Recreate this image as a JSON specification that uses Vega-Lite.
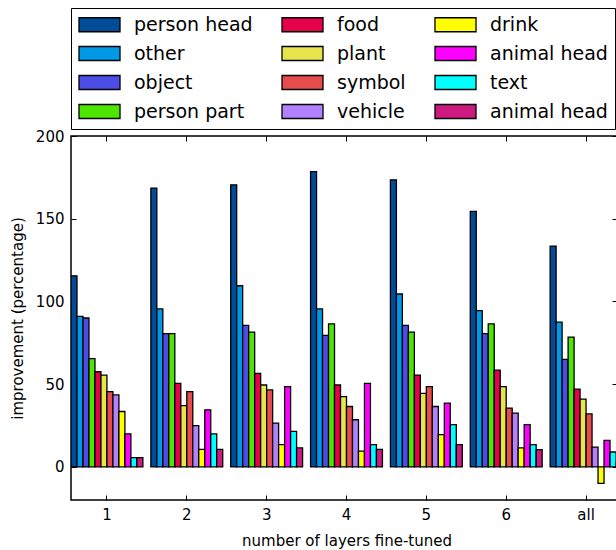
{
  "$schema": "https://vega.github.io/schema/vega-lite/v6.json",
  "width": 546,
  "height": 364,
  "autosize": {"type": "none"},
  "padding": {"left": 71, "top": 136, "right": 0, "bottom": 50},
  "config": {
    "font": "DejaVu Sans",
    "view": {"stroke": "black", "strokeWidth": 1.5},
    "axis": {"labelColor": "black", "titleColor": "black", "tickColor": "black", "labelFontSize": 15, "titleFontSize": 15, "titleFontWeight": "normal", "grid": false, "domain": false, "tickWidth": 1}
  },
  "data": {
    "values": [
      {"g": "1", "c": "person head", "v": 115.5}, {"g": "1", "c": "other", "v": 91}, {"g": "1", "c": "object", "v": 90}, {"g": "1", "c": "person part", "v": 65.5}, {"g": "1", "c": "food", "v": 57.5}, {"g": "1", "c": "plant", "v": 55.5}, {"g": "1", "c": "symbol", "v": 45.5}, {"g": "1", "c": "vehicle", "v": 43.5}, {"g": "1", "c": "drink", "v": 33.5}, {"g": "1", "c": "animal head", "v": 20}, {"g": "1", "c": "text", "v": 5.6}, {"g": "1", "c": "animal head (2)", "v": 5.6},
      {"g": "2", "c": "person head", "v": 168.5}, {"g": "2", "c": "other", "v": 95.5}, {"g": "2", "c": "object", "v": 80.5}, {"g": "2", "c": "person part", "v": 80.5}, {"g": "2", "c": "food", "v": 50.5}, {"g": "2", "c": "plant", "v": 37}, {"g": "2", "c": "symbol", "v": 45.5}, {"g": "2", "c": "vehicle", "v": 25}, {"g": "2", "c": "drink", "v": 10.6}, {"g": "2", "c": "animal head", "v": 34.5}, {"g": "2", "c": "text", "v": 20}, {"g": "2", "c": "animal head (2)", "v": 10.6},
      {"g": "3", "c": "person head", "v": 170.5}, {"g": "3", "c": "other", "v": 109.5}, {"g": "3", "c": "object", "v": 85.5}, {"g": "3", "c": "person part", "v": 81.5}, {"g": "3", "c": "food", "v": 56.5}, {"g": "3", "c": "plant", "v": 49.5}, {"g": "3", "c": "symbol", "v": 46.5}, {"g": "3", "c": "vehicle", "v": 26.5}, {"g": "3", "c": "drink", "v": 13.5}, {"g": "3", "c": "animal head", "v": 48.5}, {"g": "3", "c": "text", "v": 21.5}, {"g": "3", "c": "animal head (2)", "v": 11.5},
      {"g": "4", "c": "person head", "v": 178.5}, {"g": "4", "c": "other", "v": 95.5}, {"g": "4", "c": "object", "v": 79.5}, {"g": "4", "c": "person part", "v": 86.5}, {"g": "4", "c": "food", "v": 49.5}, {"g": "4", "c": "plant", "v": 42.5}, {"g": "4", "c": "symbol", "v": 36.5}, {"g": "4", "c": "vehicle", "v": 28.5}, {"g": "4", "c": "drink", "v": 9.6}, {"g": "4", "c": "animal head", "v": 50.5}, {"g": "4", "c": "text", "v": 13.5}, {"g": "4", "c": "animal head (2)", "v": 10.6},
      {"g": "5", "c": "person head", "v": 173.5}, {"g": "5", "c": "other", "v": 104.5}, {"g": "5", "c": "object", "v": 85.5}, {"g": "5", "c": "person part", "v": 81.5}, {"g": "5", "c": "food", "v": 55.5}, {"g": "5", "c": "plant", "v": 44.5}, {"g": "5", "c": "symbol", "v": 48.5}, {"g": "5", "c": "vehicle", "v": 36.5}, {"g": "5", "c": "drink", "v": 19.5}, {"g": "5", "c": "animal head", "v": 38.5}, {"g": "5", "c": "text", "v": 25.5}, {"g": "5", "c": "animal head (2)", "v": 13.5},
      {"g": "6", "c": "person head", "v": 154.5}, {"g": "6", "c": "other", "v": 94.5}, {"g": "6", "c": "object", "v": 80.5}, {"g": "6", "c": "person part", "v": 86.5}, {"g": "6", "c": "food", "v": 58.5}, {"g": "6", "c": "plant", "v": 48.5}, {"g": "6", "c": "symbol", "v": 35.5}, {"g": "6", "c": "vehicle", "v": 32.5}, {"g": "6", "c": "drink", "v": 11.5}, {"g": "6", "c": "animal head", "v": 25.5}, {"g": "6", "c": "text", "v": 13.5}, {"g": "6", "c": "animal head (2)", "v": 10.5},
      {"g": "all", "c": "person head", "v": 133.5}, {"g": "all", "c": "other", "v": 87.5}, {"g": "all", "c": "object", "v": 65}, {"g": "all", "c": "person part", "v": 78.5}, {"g": "all", "c": "food", "v": 47}, {"g": "all", "c": "plant", "v": 41}, {"g": "all", "c": "symbol", "v": 32}, {"g": "all", "c": "vehicle", "v": 12}, {"g": "all", "c": "drink", "v": -10}, {"g": "all", "c": "animal head", "v": 16}, {"g": "all", "c": "text", "v": 9}, {"g": "all", "c": "animal head (2)", "v": 3}
    ]
  },
  "layer": [
    {
      "mark": {"type": "bar", "stroke": "black", "strokeWidth": 1.3, "clip": true, "opacity": 1},
      "encoding": {
        "x": {
          "field": "g", "type": "nominal", "sort": ["1", "2", "3", "4", "5", "6", "all"],
          "scale": {"range": [0, 551], "paddingInner": 0.1, "paddingOuter": 0},
          "axis": {"orient": "bottom", "labelAngle": 0, "tickSize": -5, "labelPadding": 12, "title": "number of layers fine-tuned", "titlePadding": 11}
        },
        "xOffset": {
          "field": "c", "type": "nominal",
          "sort": ["person head", "other", "object", "person part", "food", "plant", "symbol", "vehicle", "drink", "animal head", "text", "animal head (2)"],
          "scale": {"paddingInner": 0, "paddingOuter": 0}
        },
        "y": {
          "field": "v", "type": "quantitative",
          "scale": {"domain": [-20, 200], "nice": false, "zero": false},
          "axis": {"orient": "left", "values": [0, 50, 100, 150, 200], "tickSize": -5, "labelPadding": 12, "title": "improvement (percentage)", "titlePadding": 10}
        },
        "color": {
          "field": "c", "type": "nominal",
          "scale": {
            "domain": ["person head", "other", "object", "person part", "food", "plant", "symbol", "vehicle", "drink", "animal head", "text", "animal head (2)"],
            "range": ["#004c99", "#0099e6", "#4c4ce6", "#4ce600", "#e6004c", "#e6e64c", "#e64c4c", "#b380ff", "#ffff00", "#ff00ff", "#00ffff", "#cc1a80"]
          },
          "legend": {
            "orient": "none", "legendX": 0, "legendY": -128, "columns": 3, "title": null,
            "labelExpr": "datum.label == 'animal head (2)' ? 'animal head' : datum.label",
            "symbolType": "M-2.93,-1H2.93V1H-2.93Z", "symbolSize": 196, "symbolOffset": 12,
            "symbolStrokeColor": "black", "symbolStrokeWidth": 1.3, "symbolOpacity": 1,
            "labelFontSize": 19, "labelColor": "black", "labelOffset": 25, "labelLimit": 300,
            "rowPadding": 8, "columnPadding": 26, "padding": 7,
            "strokeColor": "black", "fillColor": "white"
          }
        }
      }
    },
    {
      "mark": {"type": "point", "opacity": 0},
      "encoding": {
        "x": {"field": "g", "type": "nominal", "sort": ["1", "2", "3", "4", "5", "6", "all"], "axis": {"orient": "top", "labels": false, "tickSize": -5, "title": null}},
        "y": {"field": "v", "type": "quantitative", "axis": {"orient": "right", "values": [0, 50, 100, 150, 200], "labels": false, "tickSize": -5, "title": null}}
      }
    }
  ],
  "resolve": {"axis": {"x": "independent", "y": "independent"}}
}
